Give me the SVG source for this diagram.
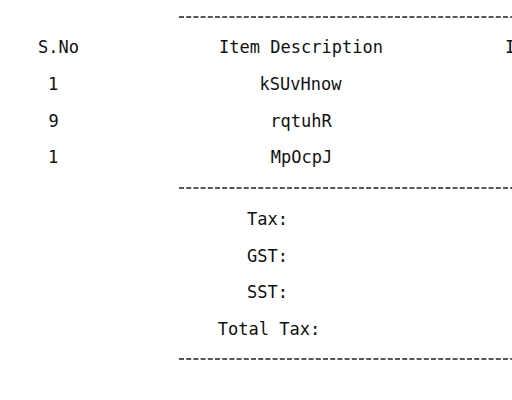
<svg xmlns="http://www.w3.org/2000/svg" width="512" height="400" viewBox="0 0 512 400">
<style>
text{font-family:"DejaVu Sans Mono","Liberation Mono",monospace;font-size:17px;fill:#111;text-anchor:middle}
.l{text-anchor:start}
.d{stroke:#222;stroke-width:1.4;stroke-dasharray:5 2.2;fill:none}
</style>
<rect width="512" height="400" fill="#fff"/>
<g id="rules">
<line class="d" x1="179" y1="17" x2="512" y2="17"/>
<line class="d" x1="179" y1="188" x2="512" y2="188"/>
<line class="d" x1="179" y1="359" x2="512" y2="359"/>
</g>
<g id="header">
<text x="58.5" y="53">S.No</text>
<text x="301" y="53">Item Description</text>
<text class="l" x="505" y="53">I</text>
</g>
<g id="rows">
<text x="53" y="90">1</text>
<text x="300.5" y="90">kSUvHnow</text>
<text x="53.5" y="126.5">9</text>
<text x="301" y="126.5">rqtuhR</text>
<text x="53" y="163">1</text>
<text x="301.5" y="163">MpOcpJ</text>
</g>
<g id="taxes">
<text x="267.5" y="225">Tax:</text>
<text x="267.5" y="261.5">GST:</text>
<text x="267.5" y="298">SST:</text>
<text x="269" y="335">Total Tax:</text>
</g>
</svg>
